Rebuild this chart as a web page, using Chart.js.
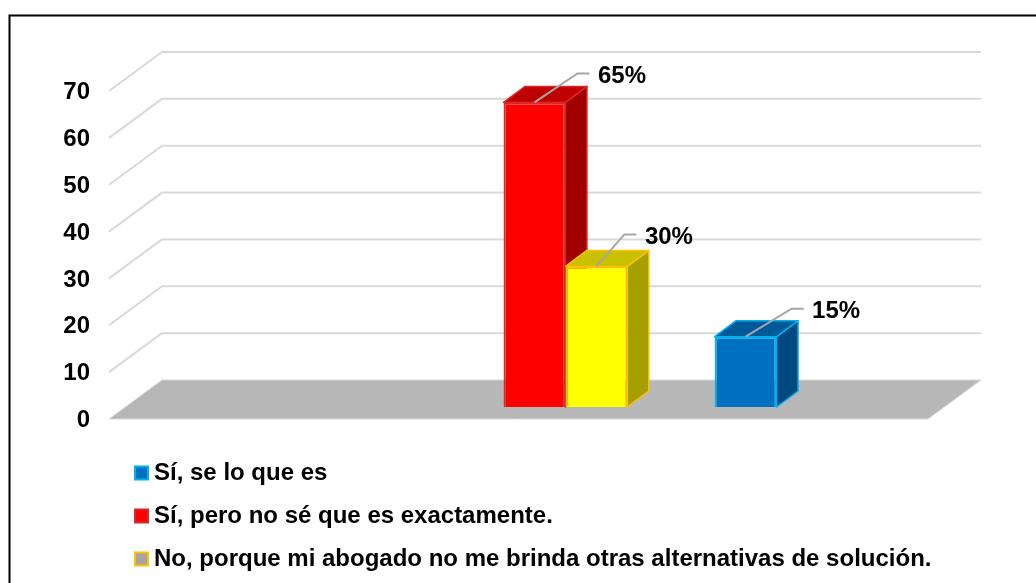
<!DOCTYPE html>
<html>
<head>
<meta charset="utf-8">
<style>
  html, body { margin: 0; padding: 0; background: #fff; }
  #wrap { position: relative; width: 1036px; height: 583px; overflow: hidden; }
</style>
<script src="https://cdn.jsdelivr.net/npm/chart.js@4"></script>
</head>
<body>
<div id="wrap"><canvas id="myChart" width="1036" height="583"></canvas></div>
<script>
var categories = ['1', '2', '3'];
var seriesNames = ['Sí, se lo que es', 'Sí, pero no sé que es exactamente.', 'No, porque mi abogado no me brinda otras alternativas de solución.'];
var blueValues = [null, null, 15];
var redValues = [null, 65, null];
var yellowValues = [null, 30, null];
var yTicks = [0, 10, 20, 30, 40, 50, 60, 70];
var pctLabels = [[null, null, '15%'], [null, '65%', null], [null, '30%', null]];

var frontColors = ['#0070C0', '#FF0000', '#FFFF00'];
var topColors = ['#005A9A', '#BF0000', '#C8C000'];
var sideColors = ['#004A80', '#A00000', '#A5A000'];
var edgeColors = ['#00B0F0', '#D8282A', '#FFC000'];
var legendFills = ['#0070C0', '#FF0000', '#A5A5A5'];
var leaderOffsets = [[46, -28, 12], [43, -29, 12], [28, -32, 12]]; // bend dx, bend dy, flat run

var WALL = { dx: 53, dy: -39 };     // front plane to back wall
var BAR_OFF = { dx: 16, dy: -12 };  // front plane to bar front
var BAR_DEPTH = { dx: 21.5, dy: -16 };

function poly(ctx, pts, fill, stroke, lw) {
    ctx.beginPath();
    pts.forEach(function (p, i) { i ? ctx.lineTo(p[0], p[1]) : ctx.moveTo(p[0], p[1]); });
    ctx.closePath();
    ctx.fillStyle = fill;
    ctx.fill();
    if (stroke) {
        ctx.strokeStyle = stroke;
        ctx.lineWidth = lw;
        ctx.lineJoin = 'round';
        ctx.stroke();
    }
}

var box3d = {
    id: 'box3d',
    afterLayout: function (chart) {
        // legend stacked under the plot instead of inside it
        chart.legend.left = 122;
        chart.legend.top = 442;
        chart.legend.bottom = 700;
        chart.legend.right = 1030;
    },
    beforeDraw: function (chart) {
        var ctx = chart.ctx;
        ctx.save();
        ctx.beginPath();
        ctx.moveTo(9.5, 583);
        ctx.lineTo(9.5, 15.5);
        ctx.lineTo(1036, 15.5);
        ctx.strokeStyle = '#000';
        ctx.lineWidth = 2;
        ctx.stroke();
        ctx.restore();
    },
    beforeDatasetsDraw: function (chart) {
        var ctx = chart.ctx, y = chart.scales.y, a = chart.chartArea;
        ctx.save();
        // floor
        var y0 = y.getPixelForValue(0);
        poly(ctx, [[a.left, y0], [a.left + WALL.dx, y0 + WALL.dy], [a.right + WALL.dx, y0 + WALL.dy], [a.right, y0]], '#B7B7B7', '#D9D9D9', 1);
        // grid lines on side and back wall
        yTicks.forEach(function (t) {
            if (t === 0) return;
            var py = y.getPixelForValue(t);
            ctx.beginPath();
            ctx.moveTo(a.left, py);
            ctx.lineTo(a.left + WALL.dx, py + WALL.dy);
            ctx.lineTo(a.right + WALL.dx, py + WALL.dy);
            ctx.strokeStyle = '#D9D9D9';
            ctx.lineWidth = 2;
            ctx.stroke();
        });
        // top and side faces, left to right so the next bar overlaps
        ctx.translate(BAR_OFF.dx, BAR_OFF.dy);
        chart.data.datasets.forEach(function (ds, i) {
            chart.getDatasetMeta(i).data.forEach(function (bar, j) {
                if (ds.data[j] === null) return;
                var L = bar.x - bar.width / 2, R = bar.x + bar.width / 2;
                var dx = BAR_DEPTH.dx, dy = BAR_DEPTH.dy;
                poly(ctx, [[R, bar.y], [R + dx, bar.y + dy], [R + dx, bar.base + dy], [R, bar.base]], sideColors[i], edgeColors[i], 1.5);
                poly(ctx, [[L, bar.y], [L + dx, bar.y + dy], [R + dx, bar.y + dy], [R, bar.y]], topColors[i], edgeColors[i], 1.5);
            });
        });
        // front faces are the library's own bars, still translated
    },
    afterDatasetsDraw: function (chart) {
        var ctx = chart.ctx;
        ctx.restore();
        ctx.save();
        ctx.font = 'bold 24px "Liberation Sans", Arial, sans-serif';
        ctx.fillStyle = '#000';
        ctx.textAlign = 'left';
        ctx.textBaseline = 'middle';
        chart.data.datasets.forEach(function (ds, i) {
            chart.getDatasetMeta(i).data.forEach(function (bar, j) {
                var txt = pctLabels[i][j];
                if (!txt) return;
                var sx = bar.x + BAR_OFF.dx, sy = bar.y + BAR_OFF.dy;
                var o = leaderOffsets[i];
                ctx.beginPath();
                ctx.moveTo(sx, sy);
                ctx.lineTo(sx + o[0], sy + o[1]);
                ctx.lineTo(sx + o[0] + o[2], sy + o[1]);
                ctx.strokeStyle = '#A6A6A6';
                ctx.lineWidth = 2;
                ctx.stroke();
                ctx.fillText(txt, sx + o[0] + o[2] + 8.5, sy + o[1] + 3);
            });
        });
        ctx.restore();
    }
};

function makeSet(i, values) {
    return {
        label: seriesNames[i],
        data: values,
        backgroundColor: frontColors[i],
        borderColor: edgeColors[i],
        borderWidth: 2,
        barPercentage: 1,
        categoryPercentage: 0.68,
        clip: false
    };
}

new Chart(document.getElementById('myChart').getContext('2d'), {
    type: 'bar',
    data: {
        labels: categories,
        datasets: [makeSet(0, blueValues), makeSet(1, redValues), makeSet(2, yellowValues)]
    },
    plugins: [box3d],
    options: {
        responsive: false,
        animation: false,
        layout: { padding: { top: 91, right: 108, bottom: 164, left: 0 } },
        plugins: {
            tooltip: { enabled: false },
            legend: {
                position: 'chartArea',
                align: 'start',
                labels: {
                    usePointStyle: true,
                    boxWidth: 1,
                    boxHeight: 13,
                    padding: 19,
                    color: '#000',
                    font: { family: '"Liberation Sans", Arial, sans-serif', size: 24, weight: 'bold' },
                    generateLabels: function () {
                        return seriesNames.map(function (name, i) {
                            return { text: name, fillStyle: legendFills[i], strokeStyle: edgeColors[i], lineWidth: 2, pointStyle: 'rect', datasetIndex: i };
                        });
                    }
                }
            }
        },
        scales: {
            x: { display: false },
            y: {
                min: 0,
                max: 70,
                afterFit: function (s) { s.width = 109; },
                afterBuildTicks: function (s) { s.ticks = yTicks.map(function (v) { return { value: v }; }); },
                grid: { display: false },
                border: { display: false },
                ticks: {
                    color: '#000',
                    padding: 11,
                    labelOffset: 1.5,
                    font: { family: '"Liberation Sans", Arial, sans-serif', size: 24, weight: 'bold' }
                }
            }
        }
    }
});
</script>
</body>
</html>
